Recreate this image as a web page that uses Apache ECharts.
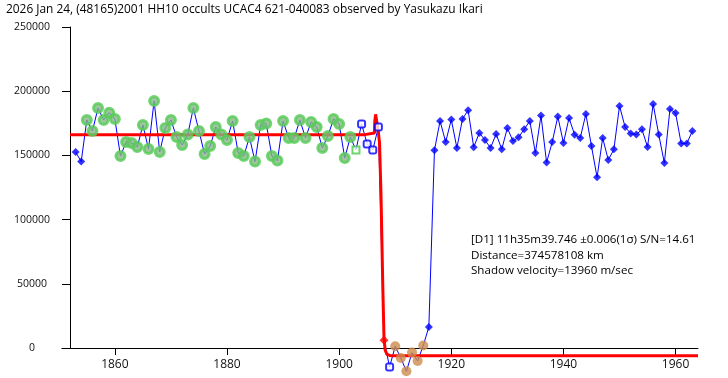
<!DOCTYPE html>
<html>
<head>
<meta charset="utf-8">
<script src="https://cdn.jsdelivr.net/npm/echarts@6/dist/echarts.min.js"></script>
<style>
html,body{margin:0;padding:0;background:#fff;}
#chart{width:728px;height:378px;}
</style>
</head>
<body>
<div id="chart"></div>
<script>
const titleText = '2026 Jan 24, (48165)2001 HH10 occults UCAC4 621-040083 observed by Yasukazu Ikari';
const infoLines = [
  '[D1] 11h35m39.746 \u00b10.006(1\u03c3) S/N=14.61',
  'Distance=374578108 km',
  'Shadow velocity=13960 m/sec'
];
const xTicks = [1860, 1880, 1900, 1920, 1940, 1960];
const yTicks = [0, 50000, 100000, 150000, 200000, 250000];

const years = [
  1853,1854,1855,1856,1857,1858,1859,1860,1861,1862,1863,1864,1865,1866,1867,1868,1869,1870,
  1871,1872,1873,1874,1875,1876,1877,1878,1879,1880,1881,1882,1883,1884,1885,1886,1887,1888,
  1889,1890,1891,1892,1893,1894,1895,1896,1897,1898,1899,1900,1901,1902,1903,1904,1905,1906,
  1907,1908,1909,1910,1911,1912,1913,1914,1915,1916,1917,1918,1919,1920,1921,1922,1923,1924,
  1925,1926,1927,1928,1929,1930,1931,1932,1933,1934,1935,1936,1937,1938,1939,1940,1941,1942,
  1943,1944,1945,1946,1947,1948,1949,1950,1951,1952,1953,1954,1955,1956,1957,1958,1959,1960,
  1961,1962,1963
];
const flux = [
  152700,145200,177600,169000,186900,177600,183300,178400,149500,160400,159700,156500,173700,155000,192400,152700,171300,177600,
  164300,158100,166200,186900,169000,151100,157300,172100,166200,162000,176800,151900,149500,164300,145200,173700,174800,149500,
  146000,176800,163600,163600,177600,163600,176000,172100,155800,165100,178400,174500,148000,164300,154200,174500,158900,154200,
  172100,6000,-14800,1300,-7800,-18100,-3600,-10100,1900,16400,154000,176800,160400,177900,155800,178400,185200,156400,
  167500,162000,155800,166700,154800,171300,161200,164100,170300,176800,151900,181000,144400,160400,180200,159700,179100,166100,
  163600,182200,157300,132900,163600,146400,154800,188500,172100,167000,166200,170300,156500,190000,166200,144100,186100,183000,
  159200,159200,169000
];
// marker kind per point: B blue diamond, G green filled, g green open, O blue open, R red, Y orange
const kinds = [
  'B','B',
  'G','G','G','G','G','G','G','G','G','G','G','G','G','G','G','G','G','G','G','G','G','G','G','G',
  'G','G','G','G','G','G','G','G','G','G','G','G','G','G','G','G','G','G','G','G','G','G','G','G',
  'g','O','O','O','O','R','O','Y','Y','Y','Y','Y','Y',
  'B','B','B','B','B','B','B','B','B','B','B','B','B','B','B','B','B','B','B','B','B','B','B','B',
  'B','B','B','B','B','B','B','B','B','B','B','B','B','B','B','B','B','B','B','B','B','B','B','B'
];
const modelX = [1852, 1904.3, 1904.35, 1906.3, 1906.35, 1906.5, 1906.85, 1907.0, 1907.2, 1907.45, 1907.8, 1908.0, 1908.2, 1908.5, 1909.0, 1909.6, 1964];
const modelY = [166000, 166000, 167500, 167500, 176000, 182000, 181000, 168000, 160000, 122000, 45000, 8000, -1500, -4800, -5800, -6000, -6000];

const FONT = '"Open Sans", "Noto Sans", sans-serif';

function pts(k) {
  const out = [];
  for (let i = 0; i < years.length; i++) if (kinds[i] === k) out.push([years[i], flux[i]]);
  return out;
}

const chart = echarts.init(document.getElementById('chart'), null, {renderer: 'canvas'});
chart.setOption({
  backgroundColor: '#fff',
  animation: false,
  title: {
    text: titleText, left: 6, top: 4, padding: 0,
    textStyle: {fontSize: 11.9, fontWeight: 'normal', color: '#000', fontFamily: FONT}
  },
  grid: {left: 70, right: 30, top: 27, bottom: 30},
  xAxis: {
    type: 'value', min: 1852, max: 1964,
    axisLine: {show: true, onZero: false, lineStyle: {color: '#000', width: 1}},
    axisTick: {show: true, length: 7, customValues: xTicks, lineStyle: {color: '#000'}},
    axisLabel: {customValues: xTicks, margin: 11, fontSize: 12, color: '#111', fontFamily: FONT,
                formatter: v => String(v)},
    splitLine: {show: false}
  },
  yAxis: {
    type: 'value', min: 0, max: 250000, interval: 50000,
    axisLine: {show: true, lineStyle: {color: '#000', width: 1}},
    axisTick: {show: true, length: 8, lineStyle: {color: '#000'}},
    axisLabel: {align: 'center', margin: 38, fontSize: 10.5, color: '#111', fontFamily: FONT,
                formatter: v => String(v)},
    splitLine: {show: false}
  },
  graphic: [
    {type: 'line', shape: {x1: 61.5, y1: 348.5, x2: 70.5, y2: 348.5}, style: {stroke: '#000', lineWidth: 1}},
    {type: 'text', left: 471, top: 232,
     style: {text: infoLines.join('\n'), font: '11.6px ' + FONT, lineHeight: 15.5, fill: '#000'}}
  ],
  series: [
    {type: 'line', data: years.map((y, i) => [y, flux[i]]), showSymbol: false, symbol: 'none',
     clip: false, z: 2, lineStyle: {color: '#0000ff', width: 1}},
    {type: 'line', data: modelX.map((x, i) => [x, modelY[i]]), showSymbol: false, symbol: 'none',
     clip: false, z: 3, lineStyle: {color: '#ff0000', width: 3}},
    {type: 'scatter', data: pts('G'), clip: false, z: 4, symbol: 'circle', symbolSize: 9,
     itemStyle: {color: '#84b884', borderColor: '#55cc55', borderWidth: 3}},
    {type: 'scatter', data: pts('g'), clip: false, z: 4, symbol: 'rect', symbolSize: 7,
     itemStyle: {color: '#fff', borderColor: '#44cc44', borderWidth: 2}},
    {type: 'scatter', data: pts('B'), clip: false, z: 4, symbol: 'diamond', symbolSize: 8,
     itemStyle: {color: '#0000ff'}},
    {type: 'scatter', data: pts('O'), clip: false, z: 4, symbol: 'roundRect', symbolSize: 7,
     itemStyle: {color: '#fff', borderColor: '#0000ff', borderWidth: 2}},
    {type: 'scatter', data: pts('Y'), clip: false, z: 4, symbol: 'circle', symbolSize: 10,
     itemStyle: {color: '#cd8c4e'}},
    {type: 'scatter', data: pts('R'), clip: false, z: 4, symbol: 'diamond', symbolSize: 9,
     itemStyle: {color: '#ff0000'}}
  ]
});
</script>
</body>
</html>
